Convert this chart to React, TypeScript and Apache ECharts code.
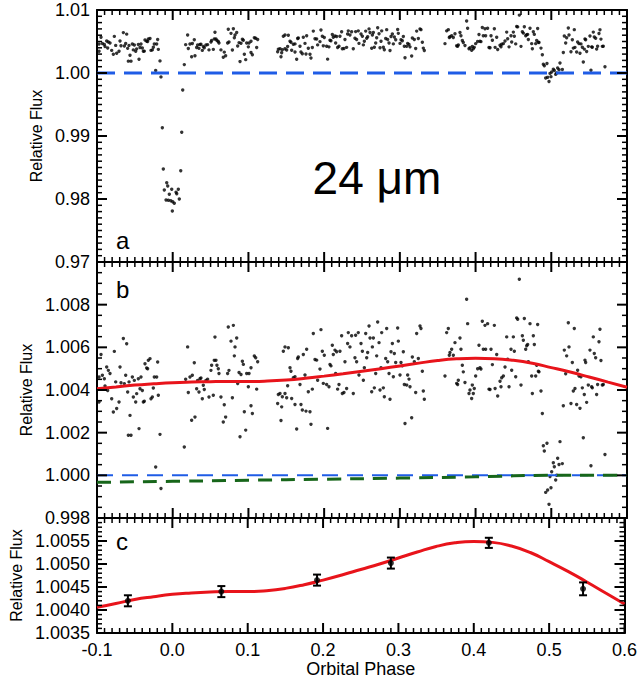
import React, { useEffect, useRef } from "react";
import * as echarts from "echarts";

// ---- light-curve data: [orbital phase, relative flux] ----
const preTransit = [
  [-0.0947, 1.00566], [-0.0973, 1.00461], [-0.0929, 1.00469], [-0.0903, 1.00453], [-0.0973, 1.00344],
  [-0.0872, 1.00508], [-0.085, 1.00492], [-0.0828, 1.00477], [-0.0894, 1.00419], [-0.0859, 1.00398],
  [-0.0806, 1.00359], [-0.0784, 1.00297], [-0.0771, 1.00581], [-0.074, 1.00313], [-0.0753, 1.00438],
  [-0.0709, 1.00344], [-0.0696, 1.00508], [-0.0683, 1.00434], [-0.0652, 1.00641], [-0.0639, 1.0043],
  [-0.0621, 1.00469], [-0.0608, 1.00617], [-0.0595, 1.00391], [-0.0577, 1.00438], [-0.0564, 1.00281],
  [-0.0586, 1.00188], [-0.0551, 1.00188], [-0.0533, 1.00461], [-0.052, 1.00367], [-0.0507, 1.00445],
  [-0.0489, 1.00344], [-0.0476, 1.00383], [-0.0454, 1.00453], [-0.0445, 1.00219], [-0.0432, 1.00406],
  [-0.0419, 1.00461], [-0.0401, 1.00398], [-0.0388, 1.00344], [-0.0375, 1.00347], [-0.0366, 1.00523],
  [-0.0344, 1.00503], [-0.0331, 1.005], [-0.0322, 1.00539], [-0.03, 1.00547], [-0.0287, 1.00359],
  [-0.0269, 1.00367], [-0.0256, 1.00409], [-0.0243, 1.00461], [-0.0212, 1.00461], [-0.0199, 1.00531],
  [-0.019, 1.00375],
];
const transit = [
  [-0.0225, 1.00039], [-0.0168, 1.00192], [-0.0155, 0.99938], [-0.0137, 0.99132], [-0.0124, 0.98476],
  [-0.0111, 0.98143], [-0.0088, 0.97984], [-0.0079, 0.98259], [-0.0066, 0.98206], [-0.0058, 0.9798],
  [-0.0045, 0.98075], [-0.0026, 0.97973], [-0.0013, 0.98154], [-0.0005, 0.9781], [0.0, 0.97957],
  [0.0021, 0.97932], [0.0044, 0.98106], [0.0053, 0.98084], [0.0074, 0.98154], [0.0087, 0.98],
  [0.0106, 0.98449], [0.0119, 0.99059], [0.0132, 0.9973], [0.0153, 1.00133],
];
const postTransit = [
  [0.0197, 1.00602], [0.0171, 1.0045], [0.0206, 1.00388], [0.0228, 1.00461], [0.025, 1.00258],
  [0.0259, 1.00469], [0.0285, 1.00528], [0.0294, 1.00273], [0.0316, 1.00406], [0.0329, 1.00445],
  [0.0347, 1.00391], [0.036, 1.00453], [0.0373, 1.00456], [0.0391, 1.00359], [0.0404, 1.00422],
  [0.0417, 1.00402], [0.0439, 1.00445], [0.0461, 1.0045], [0.0479, 1.00367], [0.0505, 1.00492],
  [0.0514, 1.00516], [0.0536, 1.00375], [0.0549, 1.00539], [0.0558, 1.00648], [0.0571, 1.00539],
  [0.0584, 1.00516], [0.0602, 1.005], [0.0611, 1.00477], [0.0637, 1.00367], [0.0668, 1.0025],
  [0.0681, 1.00331], [0.0699, 1.00273], [0.0725, 1.00477], [0.0734, 1.00695], [0.0743, 1.00492],
  [0.077, 1.00629], [0.0801, 1.00703], [0.0845, 1.00644], [0.0823, 1.00602], [0.0814, 1.0056],
  [0.0858, 1.0043], [0.0876, 1.00482], [0.0902, 1.00473], [0.092, 1.00535], [0.0933, 1.0052],
  [0.0977, 1.00477], [0.1008, 1.00477], [0.1034, 1.00504], [0.0999, 1.00415], [0.1078, 1.00559],
  [0.1096, 1.00551], [0.1122, 1.00532], [0.1109, 1.00404], [0.0788, 1.00364], [0.0946, 1.00298],
  [0.1034, 1.00326], [0.1052, 1.0029], [0.0964, 1.00212], [0.0889, 1.00181],
];
const segment2a = [
  [0.1461, 1.00582], [0.1483, 1.00602], [0.1527, 1.00598], [0.1549, 1.00504], [0.1562, 1.00488],
  [0.1593, 1.00457], [0.1615, 1.00462], [0.165, 1.00548], [0.1659, 1.00555], [0.1681, 1.00426],
  [0.1725, 1.00566], [0.1769, 1.00591], [0.1747, 1.0047], [0.1518, 1.0042], [0.1395, 1.00379],
  [0.1417, 1.00384], [0.1448, 1.00368], [0.1483, 1.00384], [0.1386, 1.00337], [0.1439, 1.00321],
  [0.143, 1.00257], [0.1505, 1.00364], [0.1571, 1.0036], [0.1615, 1.00332], [0.1637, 1.00217],
  [0.1694, 1.00332], [0.1712, 1.00306], [0.176, 1.00301], [0.1813, 1.00298], [0.1791, 1.00392],
  [0.1844, 1.00404], [0.1826, 1.00239], [0.1857, 1.00665], [0.1958, 1.00683], [0.1879, 1.00543],
  [0.1901, 1.0054], [0.1945, 1.00498], [0.1914, 1.00446], [0.1976, 1.00582], [0.2002, 1.00563],
  [0.1989, 1.00431], [0.2033, 1.00426], [0.2046, 1.0022], [0.2064, 1.00415], [0.2077, 1.0052],
  [0.209, 1.00513], [0.2108, 1.0061], [0.2121, 1.00566], [0.2143, 1.00587], [0.2165, 1.00579],
  [0.2209, 1.00582], [0.2152, 1.00477], [0.2178, 1.00404], [0.2196, 1.00426], [0.2231, 1.00654],
  [0.224, 1.00384], [0.2262, 1.00388], [0.2275, 1.00532], [0.2297, 1.00407], [0.2319, 1.00669],
  [0.231, 1.00618], [0.2341, 1.00602], [0.2363, 1.00654], [0.2385, 1.00384], [0.2407, 1.00551],
  [0.2429, 1.00532], [0.2416, 1.00657], [0.2451, 1.00669], [0.246, 1.0047],
];
const segment2b = [
  [0.2487, 1.00618], [0.2505, 1.00582], [0.2518, 1.00446], [0.2531, 1.00504], [0.2549, 1.00665],
  [0.2575, 1.00576], [0.2562, 1.00551], [0.2593, 1.007], [0.2606, 1.00644], [0.2628, 1.00392],
  [0.2637, 1.00602], [0.265, 1.00644], [0.2663, 1.0041], [0.2681, 1.00477], [0.2694, 1.0056],
  [0.2707, 1.00719], [0.2725, 1.00622], [0.2738, 1.004], [0.2751, 1.00504], [0.276, 1.00669],
  [0.2782, 1.0041], [0.2795, 1.00368], [0.2813, 1.00548], [0.2826, 1.00688], [0.2839, 1.00532],
  [0.2857, 1.00477], [0.287, 1.00357], [0.2883, 1.00579], [0.2901, 1.00618], [0.2914, 1.00462],
  [0.2927, 1.00571], [0.2945, 1.00529], [0.2971, 1.00691], [0.298, 1.00629], [0.3002, 1.0047],
  [0.3015, 1.00529], [0.3033, 1.00513], [0.3046, 1.00579], [0.3059, 1.00426], [0.3068, 1.00243],
  [0.309, 1.00423], [0.3103, 1.0047], [0.3121, 1.00451], [0.3134, 1.00415], [0.3156, 1.0027],
  [0.3165, 1.00555], [0.3191, 1.00532], [0.3209, 1.00388], [0.3222, 1.00665], [0.3244, 1.00548],
  [0.3266, 1.007], [0.3279, 1.00688], [0.3297, 1.00488], [0.331, 1.00395], [0.3323, 1.00357],
];
const segment3a = [
  [0.3596, 1.00466], [0.3618, 1.00669], [0.364, 1.00688], [0.3653, 1.00563], [0.3662, 1.00576],
  [0.3684, 1.00591], [0.3706, 1.00563], [0.3728, 1.00622], [0.375, 1.00431], [0.3763, 1.00426],
  [0.3772, 1.00446], [0.3794, 1.00644], [0.3807, 1.00591], [0.3825, 1.00516], [0.3838, 1.00485],
  [0.386, 1.00435], [0.3882, 1.00825], [0.3895, 1.00711], [0.3913, 1.00384], [0.3926, 1.004],
  [0.3948, 1.0036], [0.3957, 1.00423], [0.397, 1.00384], [0.3983, 1.00407], [0.4001, 1.00466],
  [0.4027, 1.005], [0.4045, 1.0061], [0.4058, 1.00504], [0.4071, 1.00498], [0.4089, 1.00722],
  [0.4102, 1.00591], [0.4124, 1.00703], [0.4133, 1.00591], [0.4159, 1.00711], [0.4177, 1.00404],
];
const segment3b = [
  [0.4204, 1.00591], [0.4248, 1.00703], [0.4222, 1.00519], [0.4279, 1.00566], [0.4258, 1.00407],
  [0.4191, 1.00402], [0.4292, 1.00372], [0.4323, 1.00441], [0.4345, 1.00457], [0.4367, 1.00466],
  [0.4336, 1.00415], [0.4389, 1.00508], [0.4411, 1.00649], [0.4424, 1.00544], [0.4442, 1.00415],
  [0.4468, 1.00591], [0.4477, 1.00493], [0.4499, 1.00649], [0.4512, 1.00582], [0.453, 1.00462],
  [0.4543, 1.00738], [0.4556, 1.00732], [0.4578, 1.00919], [0.46, 1.00423], [0.4618, 1.00654],
  [0.4631, 1.00633], [0.4644, 1.00735], [0.4662, 1.00591], [0.4675, 1.00607], [0.4688, 1.00613],
  [0.4697, 1.00532], [0.4719, 1.00711], [0.4741, 1.00466], [0.475, 1.00384], [0.4763, 1.00654],
  [0.4776, 1.00613], [0.4794, 1.00466], [0.4807, 1.00516], [0.482, 1.00707], [0.4829, 1.00488],
  [0.4838, 1.00485], [0.4864, 1.00395], [0.4882, 1.0029],
];
const eclipse = [
  [0.4895, 1.00139], [0.4908, 1.00114], [0.4943, 1.0015], [0.4926, 0.9992], [0.4952, 0.99931],
  [0.497, 0.99864], [0.4983, 0.99994], [0.4996, 0.99942], [0.5005, 1.00017], [0.5027, 1.00059],
  [0.504, 1.0004], [0.5058, 0.99978], [0.5071, 1.0], [0.5084, 1.0008], [0.5102, 1.00051],
  [0.5115, 1.00158], [0.5146, 1.00055],
];
const postEclipse = [
  [0.5159, 1.00326], [0.5172, 1.00587], [0.519, 1.00476], [0.5203, 1.0056], [0.5225, 1.00715],
  [0.5234, 1.00602], [0.526, 1.00337], [0.5278, 1.00529], [0.5291, 1.00395], [0.5304, 1.00688],
  [0.5313, 1.00407], [0.5335, 1.00332], [0.5348, 1.00493], [0.5366, 1.00466], [0.5379, 1.00314],
  [0.5392, 1.00462], [0.541, 1.0041], [0.5423, 1.00176], [0.5436, 1.00379], [0.5445, 1.0054],
  [0.5454, 1.00529], [0.5467, 1.00342], [0.5489, 1.00423], [0.5511, 1.00587], [0.5524, 1.00045],
  [0.5533, 1.00415], [0.5542, 1.0041], [0.5555, 1.00649], [0.5568, 1.00571], [0.5586, 1.00551],
  [0.5599, 1.00379], [0.5612, 1.00426], [0.563, 1.00626], [0.5643, 1.00685], [0.5656, 1.00538],
  [0.5674, 1.00423], [0.5687, 1.00426], [0.5709, 1.00098],
];

// ---- phase-curve model (red) ----
const modelPhase = [
  -0.1, -0.075, -0.05, -0.025, 0.0, 0.025, 0.05, 0.075, 0.1, 0.125, 0.15, 0.175, 0.2, 0.225, 0.25,
  0.275, 0.3, 0.325, 0.35, 0.375, 0.4, 0.425, 0.45, 0.475, 0.5, 0.525, 0.55, 0.575, 0.6,
];
const modelFlux = [
  1.00406, 1.00414, 1.00423, 1.00429, 1.00434, 1.00437, 1.00439, 1.0044, 1.0044, 1.00442, 1.00447,
  1.00455, 1.00465, 1.00476, 1.00488, 1.005, 1.00513, 1.00526, 1.00538, 1.00546, 1.00549, 1.00547,
  1.00539, 1.00525, 1.00505, 1.00484, 1.00461, 1.00437, 1.00413,
];

// ---- stellar baseline (green dashed) ----
const basePhase = [-0.1, 0.0, 0.1, 0.2, 0.3, 0.4, 0.5, 0.6];
const baseFlux = [0.99967, 0.99972, 0.99977, 0.99982, 0.99987, 0.99993, 1.0, 1.0];

// ---- unity reference (blue dashed) ----
const unityPhase = [-0.1, 0.6];
const unityFlux = [1.0, 1.0];

// ---- binned points (panel c) ----
const binPhase = [-0.059, 0.065, 0.192, 0.29, 0.42, 0.545];
const binFlux = [1.0042, 1.0044, 1.00465, 1.00502, 1.00546, 1.00446];
const binErr = [0.00012, 0.00012, 0.00012, 0.00012, 0.00011, 0.00014];

const FONT = "'Liberation Sans', Arial, Helvetica, sans-serif";
const BLUE = "#1f5ce6";
const GREEN = "#17661a";
const RED = "#e8141b";

const PLOT_W = 530;
const X_MIN = -0.1;
const X_MAX = 0.6;
const X_INTERVAL = 0.1;
const X_SPLIT = 10;
const panels = [
  { top: 10, height: 252, min: 0.97, max: 1.01, interval: 0.01, split: 10, digits: 2, showMax: true, nameGap: 52 },
  { top: 262, height: 256, min: 0.998, max: 1.01, interval: 0.002, split: 4, digits: 3, showMax: false, nameGap: 61 },
  { top: 518, height: 115, min: 1.0035, max: 1.006, interval: 0.0005, split: 5, digits: 4, showMax: false, nameGap: 72 },
];

const allPoints = [
  ...preTransit, ...transit, ...postTransit, ...segment2a, ...segment2b,
  ...segment3a, ...segment3b, ...eclipse, ...postEclipse,
];
const zip = (a: number[], b: number[]) => a.map((v, i) => [v, b[i]]);

// tick marks (IDL style: on all four sides, pointing inward) built from each axis' range
function tickItems(min: number, max: number, interval: number, split: number, kind: number) {
  const step = interval / split;
  const n = Math.round((max - min) / step);
  const out: number[][] = [];
  for (let i = 0; i <= n; i++) out.push([min + i * step, kind, i % split === 0 ? 1 : 0]);
  return out;
}

const lineBlack = { color: "#000", width: 2 };

function xAxes(grid: number, labels: boolean) {
  const base: any = {
    type: "value", gridIndex: grid, min: X_MIN, max: X_MAX, interval: X_INTERVAL,
    splitLine: { show: false }, axisTick: { show: false }, minorTick: { show: false },
    axisLine: { show: true, onZero: false, lineStyle: lineBlack },
  };
  const labelAxis: any = {
    ...base,
    position: "bottom",
    axisLabel: {
      show: labels, formatter: (v: number) => v.toFixed(1), color: "#000",
      fontSize: 18, fontFamily: FONT, margin: 8,
    },
  };
  if (labels) {
    labelAxis.name = "Orbital Phase";
    labelAxis.nameLocation = "middle";
    labelAxis.nameGap = 27;
    labelAxis.nameTextStyle = { color: "#000", fontSize: 18, fontFamily: FONT };
  }
  return [labelAxis, { ...base, position: "top", axisLabel: { show: false } }];
}

function yAxes(grid: number, p: any) {
  const base: any = {
    type: "value", gridIndex: grid, min: p.min, max: p.max, interval: p.interval,
    splitLine: { show: false }, axisTick: { show: false }, minorTick: { show: false },
    axisLine: { show: true, onZero: false, lineStyle: lineBlack },
  };
  const labelAxis: any = {
    ...base,
    position: "left",
    axisLabel: {
      show: true, formatter: (v: number) => v.toFixed(p.digits), color: "#000",
      fontSize: 18, fontFamily: FONT, margin: 7, showMaxLabel: p.showMax, showMinLabel: true,
    },
    name: "Relative Flux",
    nameLocation: "middle",
    nameGap: p.nameGap,
    nameTextStyle: { color: "#000", fontSize: 16, fontFamily: FONT },
  };
  return [labelAxis, { ...base, position: "right", axisLabel: { show: false } }];
}

function tickSeries(g: number, p: any) {
  const data = [
    ...tickItems(X_MIN, X_MAX, X_INTERVAL, X_SPLIT, 0),
    ...tickItems(p.min, p.max, p.interval, p.split, 1),
  ];
  return {
    type: "custom",
    xAxisIndex: g * 2,
    yAxisIndex: g * 2,
    data,
    silent: true,
    clip: false,
    z: 8,
    renderItem: (params: any, api: any) => {
      const v = api.value(0);
      const kind = api.value(1);
      const major = api.value(2) === 1;
      const cs = params.coordSys;
      const len = major ? 10 : 5;
      const st = { stroke: "#000", lineWidth: major ? 2 : 1.5 };
      if (kind === 0) {
        const px = api.coord([v, p.min])[0];
        const yb = cs.y + cs.height;
        return {
          type: "group",
          children: [
            { type: "line", shape: { x1: px, y1: yb, x2: px, y2: yb - len }, style: st },
            { type: "line", shape: { x1: px, y1: cs.y, x2: px, y2: cs.y + len }, style: st },
          ],
        };
      }
      const py = api.coord([X_MIN, v])[1];
      const xr = cs.x + cs.width;
      return {
        type: "group",
        children: [
          { type: "line", shape: { x1: cs.x, y1: py, x2: cs.x + len, y2: py }, style: st },
          { type: "line", shape: { x1: xr, y1: py, x2: xr - len, y2: py }, style: st },
        ],
      };
    },
  };
}

export default function App() {
  const ref = useRef<HTMLDivElement>(null);

  useEffect(() => {
    if (!ref.current) return;
    const chart = echarts.init(ref.current, null, { renderer: "svg" });

    const modelData = zip(modelPhase, modelFlux);
    const scatterStyle = { color: "#000" };
    const ax = (g: number) => g * 2;

    const option: any = {
      animation: false,
      backgroundColor: "#fff",
      textStyle: { fontFamily: FONT },
      grid: panels.map((p) => ({ left: 97, top: p.top, width: PLOT_W, height: p.height })),
      xAxis: [...xAxes(0, false), ...xAxes(1, false), ...xAxes(2, true)],
      yAxis: [...yAxes(0, panels[0]), ...yAxes(1, panels[1]), ...yAxes(2, panels[2])],
      series: [
        // panel a
        {
          type: "scatter", xAxisIndex: ax(0), yAxisIndex: ax(0), data: allPoints,
          symbol: "circle", symbolSize: 3.4, itemStyle: scatterStyle, z: 2,
        },
        {
          type: "line", xAxisIndex: ax(0), yAxisIndex: ax(0), data: zip(unityPhase, unityFlux),
          symbol: "none", lineStyle: { color: BLUE, width: 3, type: [18, 9] }, z: 4,
        },
        // panel b
        {
          type: "scatter", xAxisIndex: ax(1), yAxisIndex: ax(1), data: allPoints, clip: true,
          symbol: "circle", symbolSize: 3.4, itemStyle: scatterStyle, z: 2,
        },
        {
          type: "line", xAxisIndex: ax(1), yAxisIndex: ax(1), data: modelData, smooth: true,
          symbol: "none", lineStyle: { color: RED, width: 3 }, z: 3,
        },
        {
          type: "line", xAxisIndex: ax(1), yAxisIndex: ax(1), data: zip(unityPhase, unityFlux),
          symbol: "none", lineStyle: { color: BLUE, width: 2, type: [16, 9] }, z: 4,
        },
        {
          type: "line", xAxisIndex: ax(1), yAxisIndex: ax(1), data: zip(basePhase, baseFlux), smooth: true,
          symbol: "none", lineStyle: { color: GREEN, width: 3, type: [14, 9] }, z: 4,
        },
        // panel c
        {
          type: "line", xAxisIndex: ax(2), yAxisIndex: ax(2), data: modelData, smooth: true,
          symbol: "none", lineStyle: { color: RED, width: 3 }, z: 3,
        },
        {
          type: "custom", xAxisIndex: ax(2), yAxisIndex: ax(2),
          data: binPhase.map((p, i) => [p, binFlux[i], binErr[i]]),
          encode: { x: 0, y: 1 },
          z: 5,
          renderItem: (params: any, api: any) => {
            const x = api.value(0);
            const y = api.value(1);
            const e = api.value(2);
            const hi = api.coord([x, y + e]);
            const lo = api.coord([x, y - e]);
            const w = 4;
            const st = { stroke: "#000", lineWidth: 2 };
            return {
              type: "group",
              children: [
                { type: "line", shape: { x1: hi[0], y1: hi[1], x2: lo[0], y2: lo[1] }, style: st },
                { type: "line", shape: { x1: hi[0] - w, y1: hi[1], x2: hi[0] + w, y2: hi[1] }, style: st },
                { type: "line", shape: { x1: lo[0] - w, y1: lo[1], x2: lo[0] + w, y2: lo[1] }, style: st },
              ],
            };
          },
        },
        {
          type: "scatter", xAxisIndex: ax(2), yAxisIndex: ax(2), data: zip(binPhase, binFlux),
          symbol: "circle", symbolSize: 6, itemStyle: scatterStyle, z: 6,
        },
        // tick marks
        tickSeries(0, panels[0]),
        tickSeries(1, panels[1]),
        tickSeries(2, panels[2]),
      ],
      graphic: [
        {
          type: "text", x: 377, y: 178, z: 10,
          style: { text: "24 μm", fontSize: 46, fontFamily: FONT, fill: "#000", textAlign: "center", textVerticalAlign: "middle" },
        },
        {
          type: "text", x: 116, y: 240, z: 10,
          style: { text: "a", fontSize: 24, fontFamily: FONT, fill: "#000", textAlign: "left", textVerticalAlign: "middle" },
        },
        {
          type: "text", x: 116, y: 289, z: 10,
          style: { text: "b", fontSize: 24, fontFamily: FONT, fill: "#000", textAlign: "left", textVerticalAlign: "middle" },
        },
        {
          type: "text", x: 116, y: 541, z: 10,
          style: { text: "c", fontSize: 24, fontFamily: FONT, fill: "#000", textAlign: "left", textVerticalAlign: "middle" },
        },
      ],
    };

    chart.setOption(option);
    return () => chart.dispose();
  }, []);

  return (
    <div
      ref={ref}
      style={{ position: "fixed", left: 0, top: 0, width: 640, height: 683, background: "#fff" }}
    />
  );
}
